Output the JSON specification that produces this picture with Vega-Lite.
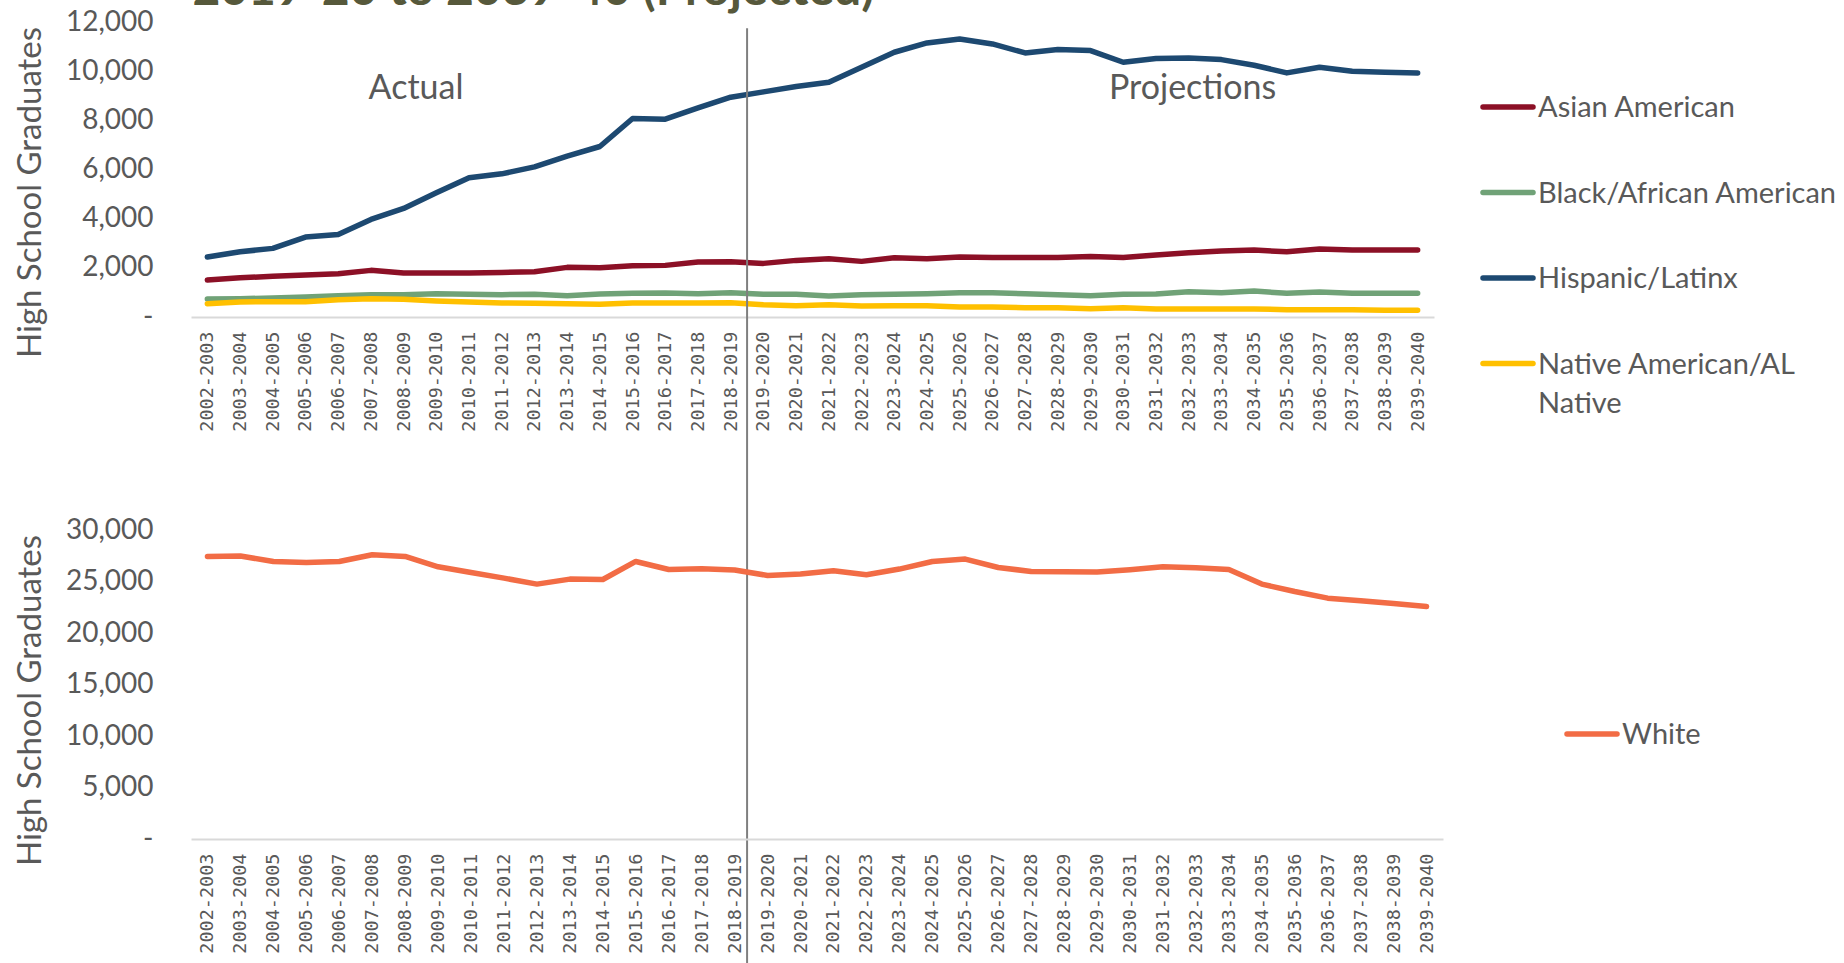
{
  "$schema": "https://vega.github.io/schema/vega-lite/v6.json",
  "background": "white",
  "padding": {"left": 14, "top": -33, "right": 0, "bottom": 0},
  "title": {"text": "2019-20 to 2039-40 (Projected)", "anchor": "start", "frame": "bounds", "font": "Lato", "fontSize": 48, "fontWeight": "bold", "color": "#56583B", "offset": -7, "dx": 178},
  "config": {
    "view": {"stroke": null},
    "font": "Lato",
    "axisX": {"title": null, "labelAngle": -90, "labelFont": "DejaVu Sans Mono", "labelFontSize": 18.5, "labelColor": "#595959", "labelPadding": 14, "ticks": false, "domainColor": "#D9D9D9", "domainWidth": 2, "grid": false},
    "axisY": {"labelFont": "Lato", "labelFontSize": 28, "labelColor": "#595959", "labelPadding": 38, "ticks": false, "domain": false, "grid": false, "titleFont": "Lato", "titleFontSize": 33, "titleFontWeight": "normal", "titleColor": "#595959", "titlePadding": 18, "titleY": 170}
  },
  "datasets": {
    "lines": [
      {"year": "2002-2003", "group": "Asian American", "graduates": 1504},
      {"year": "2003-2004", "group": "Asian American", "graduates": 1598},
      {"year": "2004-2005", "group": "Asian American", "graduates": 1653},
      {"year": "2005-2006", "group": "Asian American", "graduates": 1707},
      {"year": "2006-2007", "group": "Asian American", "graduates": 1761},
      {"year": "2007-2008", "group": "Asian American", "graduates": 1897},
      {"year": "2008-2009", "group": "Asian American", "graduates": 1788},
      {"year": "2009-2010", "group": "Asian American", "graduates": 1788},
      {"year": "2010-2011", "group": "Asian American", "graduates": 1788},
      {"year": "2011-2012", "group": "Asian American", "graduates": 1815},
      {"year": "2012-2013", "group": "Asian American", "graduates": 1842},
      {"year": "2013-2014", "group": "Asian American", "graduates": 2019},
      {"year": "2014-2015", "group": "Asian American", "graduates": 2005},
      {"year": "2015-2016", "group": "Asian American", "graduates": 2086},
      {"year": "2016-2017", "group": "Asian American", "graduates": 2100},
      {"year": "2017-2018", "group": "Asian American", "graduates": 2235},
      {"year": "2018-2019", "group": "Asian American", "graduates": 2249},
      {"year": "2019-2020", "group": "Asian American", "graduates": 2181},
      {"year": "2020-2021", "group": "Asian American", "graduates": 2303},
      {"year": "2021-2022", "group": "Asian American", "graduates": 2371},
      {"year": "2022-2023", "group": "Asian American", "graduates": 2263},
      {"year": "2023-2024", "group": "Asian American", "graduates": 2411},
      {"year": "2024-2025", "group": "Asian American", "graduates": 2371},
      {"year": "2025-2026", "group": "Asian American", "graduates": 2438},
      {"year": "2026-2027", "group": "Asian American", "graduates": 2425},
      {"year": "2027-2028", "group": "Asian American", "graduates": 2425},
      {"year": "2028-2029", "group": "Asian American", "graduates": 2425},
      {"year": "2029-2030", "group": "Asian American", "graduates": 2466},
      {"year": "2030-2031", "group": "Asian American", "graduates": 2425},
      {"year": "2031-2032", "group": "Asian American", "graduates": 2519},
      {"year": "2032-2033", "group": "Asian American", "graduates": 2614},
      {"year": "2033-2034", "group": "Asian American", "graduates": 2682},
      {"year": "2034-2035", "group": "Asian American", "graduates": 2723},
      {"year": "2035-2036", "group": "Asian American", "graduates": 2654},
      {"year": "2036-2037", "group": "Asian American", "graduates": 2763},
      {"year": "2037-2038", "group": "Asian American", "graduates": 2723},
      {"year": "2038-2039", "group": "Asian American", "graduates": 2723},
      {"year": "2039-2040", "group": "Asian American", "graduates": 2723},
      {"year": "2002-2003", "group": "Black/African American", "graduates": 731},
      {"year": "2003-2004", "group": "Black/African American", "graduates": 745},
      {"year": "2004-2005", "group": "Black/African American", "graduates": 772},
      {"year": "2005-2006", "group": "Black/African American", "graduates": 813},
      {"year": "2006-2007", "group": "Black/African American", "graduates": 867},
      {"year": "2007-2008", "group": "Black/African American", "graduates": 908},
      {"year": "2008-2009", "group": "Black/African American", "graduates": 908},
      {"year": "2009-2010", "group": "Black/African American", "graduates": 948},
      {"year": "2010-2011", "group": "Black/African American", "graduates": 921},
      {"year": "2011-2012", "group": "Black/African American", "graduates": 908},
      {"year": "2012-2013", "group": "Black/African American", "graduates": 921},
      {"year": "2013-2014", "group": "Black/African American", "graduates": 867},
      {"year": "2014-2015", "group": "Black/African American", "graduates": 935},
      {"year": "2015-2016", "group": "Black/African American", "graduates": 962},
      {"year": "2016-2017", "group": "Black/African American", "graduates": 975},
      {"year": "2017-2018", "group": "Black/African American", "graduates": 948},
      {"year": "2018-2019", "group": "Black/African American", "graduates": 989},
      {"year": "2019-2020", "group": "Black/African American", "graduates": 921},
      {"year": "2020-2021", "group": "Black/African American", "graduates": 921},
      {"year": "2021-2022", "group": "Black/African American", "graduates": 853},
      {"year": "2022-2023", "group": "Black/African American", "graduates": 908},
      {"year": "2023-2024", "group": "Black/African American", "graduates": 921},
      {"year": "2024-2025", "group": "Black/African American", "graduates": 948},
      {"year": "2025-2026", "group": "Black/African American", "graduates": 989},
      {"year": "2026-2027", "group": "Black/African American", "graduates": 989},
      {"year": "2027-2028", "group": "Black/African American", "graduates": 948},
      {"year": "2028-2029", "group": "Black/African American", "graduates": 908},
      {"year": "2029-2030", "group": "Black/African American", "graduates": 867},
      {"year": "2030-2031", "group": "Black/African American", "graduates": 921},
      {"year": "2031-2032", "group": "Black/African American", "graduates": 935},
      {"year": "2032-2033", "group": "Black/African American", "graduates": 1030},
      {"year": "2033-2034", "group": "Black/African American", "graduates": 989},
      {"year": "2034-2035", "group": "Black/African American", "graduates": 1057},
      {"year": "2035-2036", "group": "Black/African American", "graduates": 962},
      {"year": "2036-2037", "group": "Black/African American", "graduates": 1016},
      {"year": "2037-2038", "group": "Black/African American", "graduates": 962},
      {"year": "2038-2039", "group": "Black/African American", "graduates": 962},
      {"year": "2039-2040", "group": "Black/African American", "graduates": 962},
      {"year": "2002-2003", "group": "Hispanic/Latinx", "graduates": 2438},
      {"year": "2003-2004", "group": "Hispanic/Latinx", "graduates": 2654},
      {"year": "2004-2005", "group": "Hispanic/Latinx", "graduates": 2791},
      {"year": "2005-2006", "group": "Hispanic/Latinx", "graduates": 3251},
      {"year": "2006-2007", "group": "Hispanic/Latinx", "graduates": 3360},
      {"year": "2007-2008", "group": "Hispanic/Latinx", "graduates": 3970},
      {"year": "2008-2009", "group": "Hispanic/Latinx", "graduates": 4417},
      {"year": "2009-2010", "group": "Hispanic/Latinx", "graduates": 5052},
      {"year": "2010-2011", "group": "Hispanic/Latinx", "graduates": 5662},
      {"year": "2011-2012", "group": "Hispanic/Latinx", "graduates": 5824},
      {"year": "2012-2013", "group": "Hispanic/Latinx", "graduates": 6108},
      {"year": "2013-2014", "group": "Hispanic/Latinx", "graduates": 6543},
      {"year": "2014-2015", "group": "Hispanic/Latinx", "graduates": 6936},
      {"year": "2015-2016", "group": "Hispanic/Latinx", "graduates": 8074},
      {"year": "2016-2017", "group": "Hispanic/Latinx", "graduates": 8046},
      {"year": "2017-2018", "group": "Hispanic/Latinx", "graduates": 8505},
      {"year": "2018-2019", "group": "Hispanic/Latinx", "graduates": 8940},
      {"year": "2019-2020", "group": "Hispanic/Latinx", "graduates": 9157},
      {"year": "2020-2021", "group": "Hispanic/Latinx", "graduates": 9374},
      {"year": "2021-2022", "group": "Hispanic/Latinx", "graduates": 9550},
      {"year": "2022-2023", "group": "Hispanic/Latinx", "graduates": 10159},
      {"year": "2023-2024", "group": "Hispanic/Latinx", "graduates": 10769},
      {"year": "2024-2025", "group": "Hispanic/Latinx", "graduates": 11148},
      {"year": "2025-2026", "group": "Hispanic/Latinx", "graduates": 11311},
      {"year": "2026-2027", "group": "Hispanic/Latinx", "graduates": 11107},
      {"year": "2027-2028", "group": "Hispanic/Latinx", "graduates": 10741},
      {"year": "2028-2029", "group": "Hispanic/Latinx", "graduates": 10877},
      {"year": "2029-2030", "group": "Hispanic/Latinx", "graduates": 10836},
      {"year": "2030-2031", "group": "Hispanic/Latinx", "graduates": 10362},
      {"year": "2031-2032", "group": "Hispanic/Latinx", "graduates": 10512},
      {"year": "2032-2033", "group": "Hispanic/Latinx", "graduates": 10539},
      {"year": "2033-2034", "group": "Hispanic/Latinx", "graduates": 10471},
      {"year": "2034-2035", "group": "Hispanic/Latinx", "graduates": 10241},
      {"year": "2035-2036", "group": "Hispanic/Latinx", "graduates": 9929},
      {"year": "2036-2037", "group": "Hispanic/Latinx", "graduates": 10159},
      {"year": "2037-2038", "group": "Hispanic/Latinx", "graduates": 9997},
      {"year": "2038-2039", "group": "Hispanic/Latinx", "graduates": 9956},
      {"year": "2039-2040", "group": "Hispanic/Latinx", "graduates": 9929},
      {"year": "2002-2003", "group": "Native American/AL Native", "graduates": 542},
      {"year": "2003-2004", "group": "Native American/AL Native", "graduates": 610},
      {"year": "2004-2005", "group": "Native American/AL Native", "graduates": 623},
      {"year": "2005-2006", "group": "Native American/AL Native", "graduates": 623},
      {"year": "2006-2007", "group": "Native American/AL Native", "graduates": 704},
      {"year": "2007-2008", "group": "Native American/AL Native", "graduates": 745},
      {"year": "2008-2009", "group": "Native American/AL Native", "graduates": 718},
      {"year": "2009-2010", "group": "Native American/AL Native", "graduates": 650},
      {"year": "2010-2011", "group": "Native American/AL Native", "graduates": 610},
      {"year": "2011-2012", "group": "Native American/AL Native", "graduates": 569},
      {"year": "2012-2013", "group": "Native American/AL Native", "graduates": 555},
      {"year": "2013-2014", "group": "Native American/AL Native", "graduates": 542},
      {"year": "2014-2015", "group": "Native American/AL Native", "graduates": 515},
      {"year": "2015-2016", "group": "Native American/AL Native", "graduates": 569},
      {"year": "2016-2017", "group": "Native American/AL Native", "graduates": 569},
      {"year": "2017-2018", "group": "Native American/AL Native", "graduates": 569},
      {"year": "2018-2019", "group": "Native American/AL Native", "graduates": 583},
      {"year": "2019-2020", "group": "Native American/AL Native", "graduates": 501},
      {"year": "2020-2021", "group": "Native American/AL Native", "graduates": 461},
      {"year": "2021-2022", "group": "Native American/AL Native", "graduates": 501},
      {"year": "2022-2023", "group": "Native American/AL Native", "graduates": 447},
      {"year": "2023-2024", "group": "Native American/AL Native", "graduates": 461},
      {"year": "2024-2025", "group": "Native American/AL Native", "graduates": 461},
      {"year": "2025-2026", "group": "Native American/AL Native", "graduates": 406},
      {"year": "2026-2027", "group": "Native American/AL Native", "graduates": 406},
      {"year": "2027-2028", "group": "Native American/AL Native", "graduates": 379},
      {"year": "2028-2029", "group": "Native American/AL Native", "graduates": 379},
      {"year": "2029-2030", "group": "Native American/AL Native", "graduates": 339},
      {"year": "2030-2031", "group": "Native American/AL Native", "graduates": 379},
      {"year": "2031-2032", "group": "Native American/AL Native", "graduates": 325},
      {"year": "2032-2033", "group": "Native American/AL Native", "graduates": 325},
      {"year": "2033-2034", "group": "Native American/AL Native", "graduates": 325},
      {"year": "2034-2035", "group": "Native American/AL Native", "graduates": 325},
      {"year": "2035-2036", "group": "Native American/AL Native", "graduates": 298},
      {"year": "2036-2037", "group": "Native American/AL Native", "graduates": 298},
      {"year": "2037-2038", "group": "Native American/AL Native", "graduates": 298},
      {"year": "2038-2039", "group": "Native American/AL Native", "graduates": 271},
      {"year": "2039-2040", "group": "Native American/AL Native", "graduates": 271}
    ],
    "white": [
      {"year": "2002-2003", "group": "White", "graduates": 27432},
      {"year": "2003-2004", "group": "White", "graduates": 27471},
      {"year": "2004-2005", "group": "White", "graduates": 26946},
      {"year": "2005-2006", "group": "White", "graduates": 26848},
      {"year": "2006-2007", "group": "White", "graduates": 26946},
      {"year": "2007-2008", "group": "White", "graduates": 27597},
      {"year": "2008-2009", "group": "White", "graduates": 27432},
      {"year": "2009-2010", "group": "White", "graduates": 26430},
      {"year": "2010-2011", "group": "White", "graduates": 25876},
      {"year": "2011-2012", "group": "White", "graduates": 25330},
      {"year": "2012-2013", "group": "White", "graduates": 24747},
      {"year": "2013-2014", "group": "White", "graduates": 25233},
      {"year": "2014-2015", "group": "White", "graduates": 25195},
      {"year": "2015-2016", "group": "White", "graduates": 26946},
      {"year": "2016-2017", "group": "White", "graduates": 26167},
      {"year": "2017-2018", "group": "White", "graduates": 26235},
      {"year": "2018-2019", "group": "White", "graduates": 26109},
      {"year": "2019-2020", "group": "White", "graduates": 25584},
      {"year": "2020-2021", "group": "White", "graduates": 25720},
      {"year": "2021-2022", "group": "White", "graduates": 26041},
      {"year": "2022-2023", "group": "White", "graduates": 25652},
      {"year": "2023-2024", "group": "White", "graduates": 26206},
      {"year": "2024-2025", "group": "White", "graduates": 26946},
      {"year": "2025-2026", "group": "White", "graduates": 27179},
      {"year": "2026-2027", "group": "White", "graduates": 26362},
      {"year": "2027-2028", "group": "White", "graduates": 25973},
      {"year": "2028-2029", "group": "White", "graduates": 25944},
      {"year": "2029-2030", "group": "White", "graduates": 25914},
      {"year": "2030-2031", "group": "White", "graduates": 26138},
      {"year": "2031-2032", "group": "White", "graduates": 26430},
      {"year": "2032-2033", "group": "White", "graduates": 26333},
      {"year": "2033-2034", "group": "White", "graduates": 26167},
      {"year": "2034-2035", "group": "White", "graduates": 24747},
      {"year": "2035-2036", "group": "White", "graduates": 24027},
      {"year": "2036-2037", "group": "White", "graduates": 23385},
      {"year": "2037-2038", "group": "White", "graduates": 23122},
      {"year": "2038-2039", "group": "White", "graduates": 22860},
      {"year": "2039-2040", "group": "White", "graduates": 22568}
    ],
    "noteActual": [{"year": "2008-2009", "graduates": 9265, "label": "Actual"}],
    "noteProj": [{"year": "2032-2033", "graduates": 9265, "label": "Projections"}],
    "divider": [{"year": "2018-2019", "from": 11744, "to": -27000}]
  },
  "resolve": {"scale": {"x": "independent", "y": "independent", "color": "independent"}},
  "bounds": "flush",
  "spacing": 213,
  "vconcat": [
    {
      "width": 1243,
      "height": 295,
      "layer": [
        {
          "data": {"name": "lines"},
          "mark": {"type": "line", "strokeWidth": 5.5, "strokeCap": "round", "strokeJoin": "round"},
          "encoding": {
            "x": {"field": "year", "type": "ordinal", "bandPosition": 0.5, "scale": {"type": "band", "paddingInner": 0, "paddingOuter": 0}},
            "y": {"field": "graduates", "type": "quantitative", "scale": {"domain": [0, 12000], "nice": false},
                  "axis": {"title": "High School Graduates", "values": [0, 2000, 4000, 6000, 8000, 10000, 12000], "labelExpr": "datum.value == 0 ? '-   ' : format(datum.value, ',')"}},
            "color": {"field": "group", "type": "nominal",
                      "scale": {"domain": ["Asian American", "Black/African American", "Hispanic/Latinx", "Native American/AL Native"], "range": ["#8C1026", "#70A277", "#1D4971", "#FFC000"]},
                      "legend": {"orient": "none", "legendX": 1289, "legendY": 57, "title": null, "padding": 0, "symbolType": "stroke", "symbolSize": 2500, "symbolStrokeWidth": 5.5, "labelFont": "Lato", "labelFontSize": 29, "labelColor": "#595959", "labelOffset": 2, "labelLimit": 600, "rowPadding": 41.5, "labelBaseline": "alphabetic",
                                 "labelExpr": "datum.label == 'Native American/AL Native' ? ['Native American/AL', 'Native'] : datum.label",
                                 "encode": {"labels": {"update": {"dy": {"value": 10}, "lineHeight": {"value": 39}}}, "symbols": {"update": {"strokeCap": {"value": "round"}}}}}}
          }
        },
        {
          "data": {"name": "noteActual"},
          "mark": {"type": "text", "font": "Lato", "fontSize": 34, "color": "#595959", "baseline": "middle", "align": "center"},
          "encoding": {
            "x": {"field": "year", "type": "ordinal", "bandPosition": 0.88},
            "y": {"field": "graduates", "type": "quantitative"},
            "text": {"field": "label"}
          }
        },
        {
          "data": {"name": "noteProj"},
          "mark": {"type": "text", "font": "Lato", "fontSize": 34, "color": "#595959", "baseline": "middle", "align": "center"},
          "encoding": {
            "x": {"field": "year", "type": "ordinal", "bandPosition": 0.62},
            "y": {"field": "graduates", "type": "quantitative"},
            "text": {"field": "label"}
          }
        },
        {
          "data": {"name": "divider"},
          "mark": {"type": "rule", "color": "#7F7F7F", "strokeWidth": 2},
          "encoding": {
            "x": {"field": "year", "type": "ordinal", "bandPosition": 1},
            "y": {"field": "from", "type": "quantitative"},
            "y2": {"field": "to"}
          }
        }
      ]
    },
    {
      "width": 1252,
      "height": 309,
      "data": {"name": "white"},
      "mark": {"type": "line", "strokeWidth": 5.5, "strokeCap": "round", "strokeJoin": "round"},
      "encoding": {
        "x": {"field": "year", "type": "ordinal", "bandPosition": 0.5, "scale": {"type": "band", "paddingInner": 0, "paddingOuter": 0}},
        "y": {"field": "graduates", "type": "quantitative", "scale": {"domain": [0, 30000], "nice": false},
              "axis": {"title": "High School Graduates", "values": [0, 5000, 10000, 15000, 20000, 25000, 30000], "labelExpr": "datum.value == 0 ? '-   ' : format(datum.value, ',')"}},
        "color": {"field": "group", "type": "nominal",
                  "scale": {"domain": ["White"], "range": ["#F26C45"]},
                  "legend": {"orient": "none", "legendX": 1373, "legendY": 176, "title": null, "padding": 0, "symbolType": "stroke", "symbolSize": 2500, "symbolStrokeWidth": 5.5, "labelFont": "Lato", "labelFontSize": 29, "labelColor": "#595959", "labelOffset": 2, "labelLimit": 600, "labelBaseline": "alphabetic",
                             "encode": {"labels": {"update": {"dy": {"value": 10}}}, "symbols": {"update": {"strokeCap": {"value": "round"}}}}}}
      }
    }
  ]
}
